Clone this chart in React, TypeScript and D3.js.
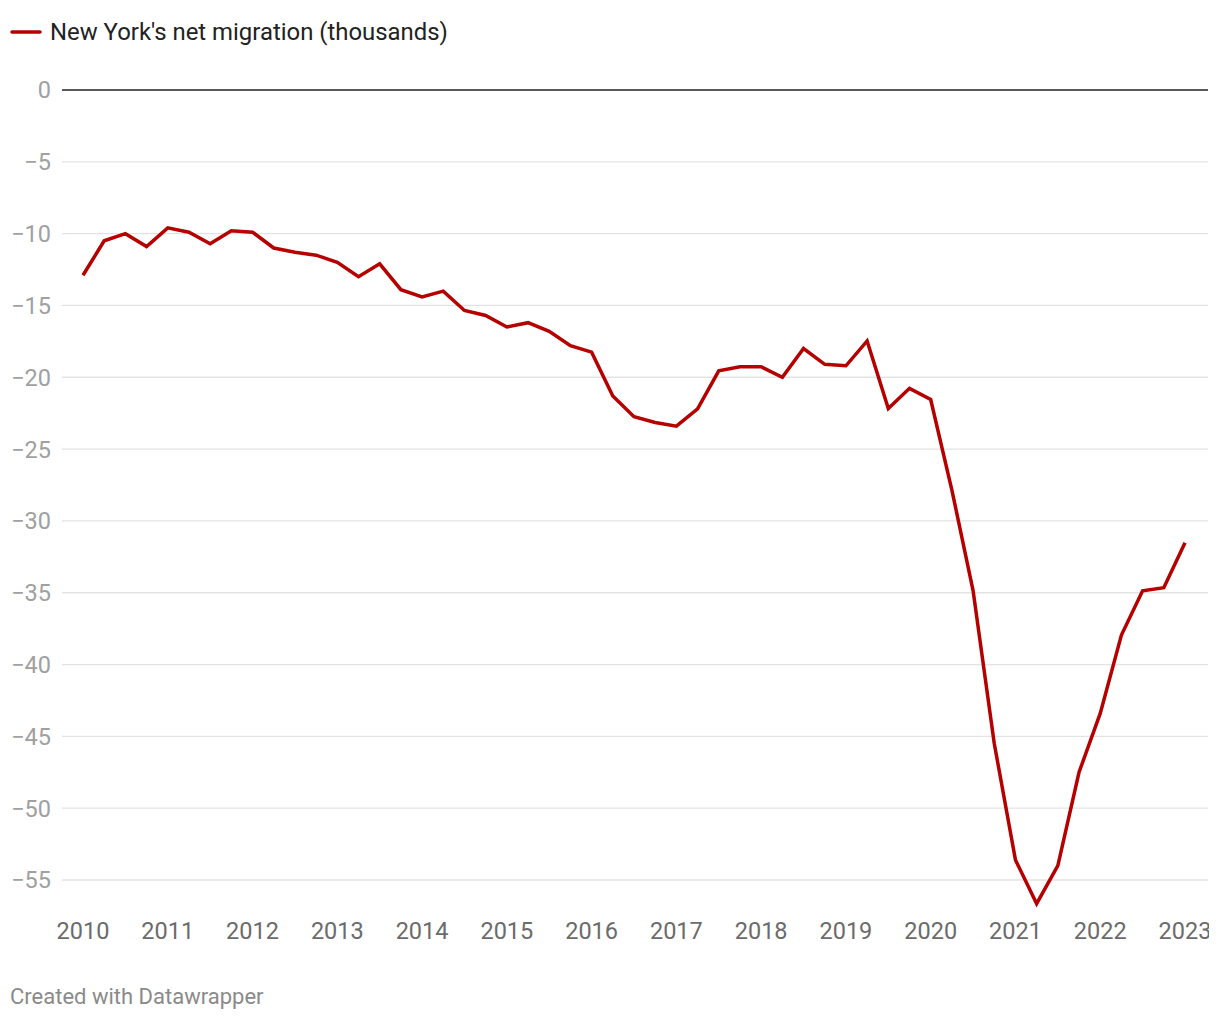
import React from "react";
import * as d3 from "d3";

const startYear = 2010;
const quarterValues: number[] = [
  -12.9, -10.5, -10.0, -10.9,
  -9.6, -9.9, -10.7, -9.8,
  -9.9, -11.0, -11.3, -11.5,
  -12.0, -13.0, -12.1, -13.9,
  -14.4, -14.0, -15.35, -15.7,
  -16.5, -16.2, -16.8, -17.8,
  -18.25, -21.3, -22.75, -23.15,
  -23.4, -22.2, -19.55, -19.27,
  -19.27, -20.0, -18.0, -19.1,
  -19.2, -17.47, -22.17, -20.77,
  -21.55, -27.85, -34.85, -45.5,
  -53.6, -56.65, -54.0, -47.5,
  -43.4, -37.95, -34.87, -34.65,
  -31.52,
];
const yearTicks: number[] = [2010, 2011, 2012, 2013, 2014, 2015, 2016, 2017, 2018, 2019, 2020, 2021, 2022, 2023];
const yTicks: number[] = [0, -5, -10, -15, -20, -25, -30, -35, -40, -45, -50, -55];
const legendLabel = "New York's net migration (thousands)";
const footer = "Created with Datawrapper";

const W = 1220;
const H = 1020;
const FONT = "Roboto, 'Noto Sans', sans-serif";
const fmt = (v: number) => (v < 0 ? "\u2212" + Math.abs(v) : String(v));

export default function App() {
  const x = d3.scaleLinear().domain([2010, 2023]).range([83, 1185]);
  const y = d3.scaleLinear().domain([0, -55]).range([90, 880]);
  const pts = quarterValues.map((v, i) => ({ t: startYear + i / 4, v }));
  const line = d3
    .line<{ t: number; v: number }>()
    .x((d) => x(d.t))
    .y((d) => y(d.v));

  return (
    <svg
      width={W}
      height={H}
      style={{ position: "absolute", left: 0, top: 0, background: "#fff" }}
      fontFamily={FONT}
    >
      <defs>
        <clipPath id="xclip">
          <rect x={0} y={0} width={1209} height={H} />
        </clipPath>
      </defs>
      {/* legend */}
      <line x1={12} x2={40} y1={32} y2={32} stroke="#b60000" strokeWidth={3.5} strokeLinecap="round" />
      <text x={50} y={40} fontSize={23.9} fill="#222">
        {legendLabel}
      </text>

      {/* grid */}
      {yTicks.map((t) => (
        <g key={t}>
          {t !== 0 && (
            <line x1={62} x2={1208} y1={y(t)} y2={y(t)} stroke="#e3e3e3" strokeWidth={1.3} />
          )}
          <text x={51} y={y(t)} dy="0.36em" textAnchor="end" fontSize={23.5} fill="#a0a0a0">
            {fmt(t)}
          </text>
        </g>
      ))}
      <line x1={62} x2={1208} y1={y(0)} y2={y(0)} stroke="#222" strokeWidth={1.6} />

      {/* x labels */}
      <g clipPath="url(#xclip)">
        {yearTicks.map((yr) => (
          <text key={yr} x={x(yr)} y={938.5} textAnchor="middle" fontSize={23.5} fill="#6b6b6b">
            {yr}
          </text>
        ))}
      </g>

      {/* line */}
      <path
        d={line(pts) || ""}
        fill="none"
        stroke="#b60000"
        strokeWidth={3.5}
        strokeLinejoin="miter"
      />

      <text x={10} y={1004} fontSize={22} fill="#8a8a8a">
        {footer}
      </text>
    </svg>
  );
}
